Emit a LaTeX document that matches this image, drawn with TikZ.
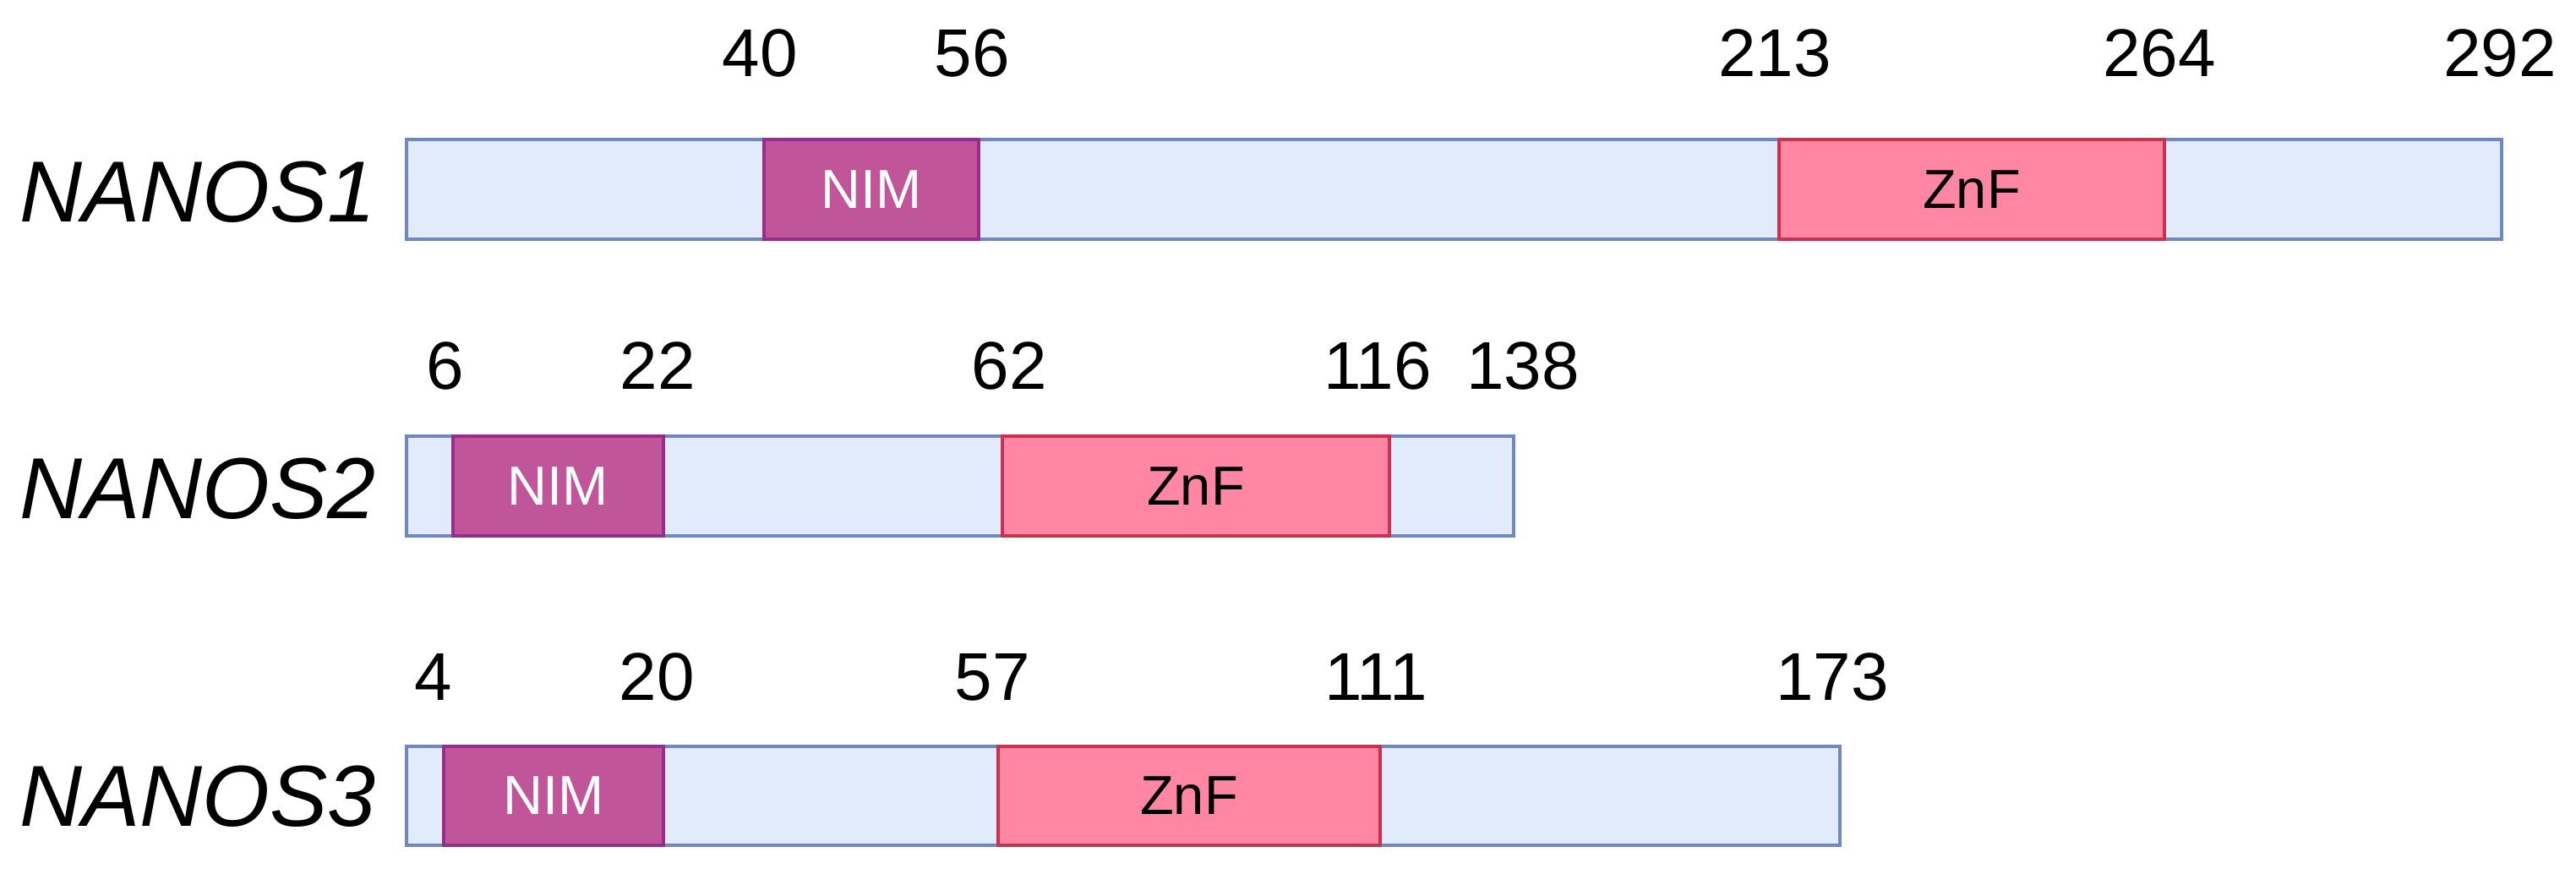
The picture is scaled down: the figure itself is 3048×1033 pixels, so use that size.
\documentclass[tikz,border=0pt]{standalone}
\usepackage{fontspec}
\setmainfont{Liberation Sans}
\definecolor{barfill}{HTML}{E1EBFB}
\definecolor{barline}{HTML}{6F88C4}
\definecolor{nimfill}{HTML}{C05599}
\definecolor{nimline}{HTML}{962C90}
\definecolor{znffill}{HTML}{FF87A3}
\definecolor{znfline}{HTML}{CC3050}
\tikzset{
  barbox/.style={draw=barline, fill=barfill, line width=0.8pt},
  nimbox/.style={draw=nimline, fill=nimfill, line width=0.8pt},
  znfbox/.style={draw=znfline, fill=znffill, line width=0.8pt},
  nimtext/.style={text=white, font=\fontsize{13}{13}\selectfont, inner sep=0pt},
  znftext/.style={text=black, font=\fontsize{13}{13}\selectfont, inner sep=0pt},
  numlab/.style={anchor=base, font=\fontsize{16}{16}\selectfont, inner sep=0pt},
  genelab/.style={anchor=base west, font=\fontsize{20.5}{20.5}\selectfont\itshape, inner sep=0pt},
}
\begin{document}
\begin{tikzpicture}[x=0.2pt, y=-0.2pt]
\useasboundingbox (0,0) rectangle (3048,1033);
% ---- NANOS1
\node[genelab] (g1) at (22,262) {NANOS1};
\draw[barbox] (481,165) rectangle (2960,283);
\draw[nimbox] (904,165) rectangle (1158,283);
\draw[znfbox] (2105,165) rectangle (2561,283);
\node[nimtext] (n1) at (1031,224) {NIM};
\node[znftext] (z1) at (2333,224) {ZnF};
\node[numlab] (a40) at (899,90) {40};
\node[numlab] (a56) at (1150,90) {56};
\node[numlab] (a213) at (2100,90) {213};
\node[numlab] (a264) at (2555,90) {264};
\node[numlab] (a292) at (2958,90) {292};
% ---- NANOS2
\node[genelab] (g2) at (22,613) {NANOS2};
\draw[barbox] (481,516) rectangle (1791,634);
\draw[nimbox] (536,516) rectangle (785,634);
\draw[znfbox] (1186,516) rectangle (1644,634);
\node[nimtext] (n2) at (660,575) {NIM};
\node[znftext] (z2) at (1415,575) {ZnF};
\node[numlab] (b6) at (527,460) {6};
\node[numlab] (b22) at (778,460) {22};
\node[numlab] (b62) at (1194,460) {62};
\node[numlab] (b116) at (1630,460) {116};
\node[numlab] (b138) at (1802,460) {138};
% ---- NANOS3
\node[genelab] (g3) at (22,977) {NANOS3};
\draw[barbox] (481,883) rectangle (2177,1000);
\draw[nimbox] (525,883) rectangle (785,1000);
\draw[znfbox] (1181,883) rectangle (1633,1000);
\node[nimtext] (n3) at (655,941) {NIM};
\node[znftext] (z3) at (1407,941) {ZnF};
\node[numlab] (c4) at (513,828) {4};
\node[numlab] (c20) at (777,828) {20};
\node[numlab] (c57) at (1174,828) {57};
\node[numlab] (c111) at (1628,828) {111};
\node[numlab] (c173) at (2168,828) {173};
\end{tikzpicture}
\end{document}
